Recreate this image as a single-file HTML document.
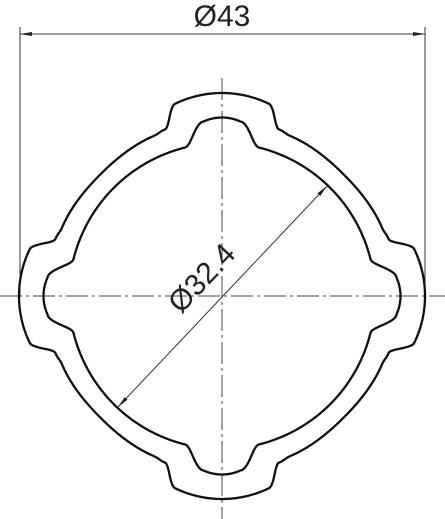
<!DOCTYPE html>
<html><head><meta charset="utf-8"><style>
html,body{margin:0;padding:0;background:#fff;width:445px;height:519px;overflow:hidden}
svg{display:block}
text{font-family:"Liberation Sans",sans-serif;fill:#222}
</style></head><body>
<svg id="dwg" width="445" height="519" viewBox="0 0 445 519" xmlns="http://www.w3.org/2000/svg">
<defs>
<marker id="ar" viewBox="0 0 12 4" refX="12" refY="2" markerWidth="12" markerHeight="4" orient="auto-start-reverse" markerUnits="userSpaceOnUse"><path d="M0,0 L12,2 L0,4 Z" fill="#222"/></marker>
</defs>
<g stroke="#444" stroke-width="1" stroke-dasharray="22,4,3,4" fill="none">
<line x1="0" y1="296" x2="445" y2="296"/>
<line x1="222" y1="78" x2="222" y2="519"/>
</g>
<g stroke="#333" stroke-width="1" fill="none">
<line x1="20" y1="27" x2="20" y2="297"/>
<line x1="425" y1="27" x2="425" y2="297"/>
<line x1="20" y1="34" x2="425" y2="34" marker-start="url(#ar)" marker-end="url(#ar)"/>
</g>
<text x="222" y="26" font-size="30" text-anchor="middle">Ø43</text>
<path id="outer" fill="none" stroke="#111" stroke-width="2.3"/>
<path id="inner" fill="none" stroke="#111" stroke-width="2.3"/>
<line x1="118" y1="407" x2="327" y2="186" stroke="#333" stroke-width="1" marker-start="url(#ar)" marker-end="url(#ar)"/>
<text x="0" y="0" font-size="30" text-anchor="middle" transform="translate(209,285) rotate(-46.5)">Ø32.4</text>
</svg>
<script>
const cx=222, cy=296;
function sm(a,b,t){t=Math.min(1,Math.max(0,t));t=t*t*(3-2*t);return a+(b-a)*t;}
function outerR(d){
  const lobe=203-7*Math.pow(d/16,2);
  if(d<13.5) return lobe;
  if(d<19) return sm(203-7*Math.pow(13.5/16,2),176,(d-13.5)/5.5);
  if(d<23) return sm(176,174,(d-19)/4);
  return sm(174,172,(d-23)/22);
}
function innerR(d){
  if(d<6) return 178.5-3*Math.pow(d/6,2);
  if(d<14) return sm(175.5,153,(d-6)/8);
  return 153;
}
function build(fn){
  let s='';
  for(let i=0;i<=1440;i++){
    const a=i*0.25;
    let m=a%90; let d=Math.min(m,90-m);
    const r=fn(d), t=a*Math.PI/180;
    const x=cx+r*Math.cos(t), y=cy+r*Math.sin(t);
    s+=(i?'L':'M')+x.toFixed(2)+','+y.toFixed(2);
  }
  return s+'Z';
}
document.getElementById('outer').setAttribute('d',build(outerR));
document.getElementById('inner').setAttribute('d',build(innerR));
</script>
</body></html>
